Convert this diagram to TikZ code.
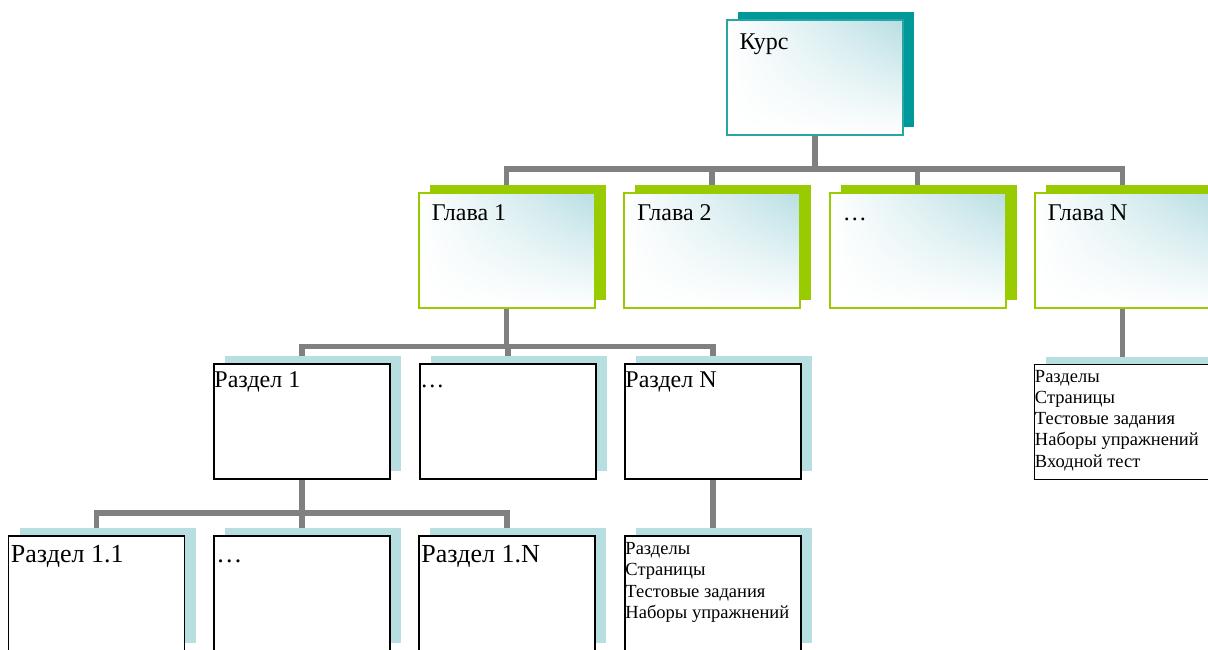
\documentclass[tikz,border=0pt]{standalone}
\usepackage{fontspec}
\setmainfont{Liberation Serif}
\usetikzlibrary{shadows,shadings,backgrounds,calc}

\definecolor{tealshadow}{RGB}{0,153,153}
\definecolor{tealline}{RGB}{40,165,165}
\definecolor{limegreen}{RGB}{153,204,0}
\definecolor{iceblue}{RGB}{184,222,227}
\definecolor{paleshadow}{RGB}{183,222,224}
\definecolor{conngray}{RGB}{128,128,128}

\tikzset{every picture/.style={line width=0.75pt}}
\tikzset{
  box/.style={minimum width=176pt, minimum height=115pt, inner sep=0pt},
  topbox/.style={box, draw=tealline, line width=1.5pt,
    upper right=iceblue, upper left=white, lower left=white, lower right=white,
    general shadow={fill=tealshadow, shadow xshift=11pt, shadow yshift=8pt}},
  chapbox/.style={box, draw=limegreen, line width=2pt,
    upper right=iceblue, upper left=white, lower left=white, lower right=white,
    general shadow={fill=limegreen, shadow xshift=11pt, shadow yshift=8pt}},
  secbox/.style={box, draw=black, line width=1.8pt, fill=white,
    general shadow={fill=paleshadow, shadow xshift=11pt, shadow yshift=8pt}},
  bigtext/.style={anchor=base west, inner sep=0pt, font=\fontsize{24}{28}\selectfont},
  subtext/.style={bigtext, font=\fontsize{26}{30}\selectfont},
  listtext/.style={anchor=north west, inner sep=0pt, align=left, font=\fontsize{18.5}{21.3}\selectfont},
  conn/.style={draw=conngray, line width=5.5pt}
}

\begin{document}
\begin{tikzpicture}[x=1pt,y=1pt,yscale=-1,xscale=1]
  \useasboundingbox (0,0) rectangle (1208,649);
  \clip (0,0) rectangle (1208,649);

  % course
  \node[topbox] (kurs) at (815,77.5) {};
  % chapters
  \node[chapbox] (ch1) at (506.5,250) {};
  \node[chapbox] (ch2) at (712,250) {};
  \node[chapbox] (ch3) at (917.5,250) {};
  \node[chapbox] (chN) at (1122.5,250) {};
  % sections
  \node[secbox] (s1) at (302,421.5) {};
  \node[secbox] (s2) at (508,421.5) {};
  \node[secbox] (sN) at (713,421.5) {};
  \node[secbox] (chNlist) at (1122.5,422) {};
  % subsections
  \node[secbox] (s11) at (96.5,593.5) {};
  \node[secbox] (s12) at (302,593.5) {};
  \node[secbox] (s1N) at (507,593.5) {};
  \node[secbox] (sNlist) at (713,593.5) {};

  % Text Node
  \node[bigtext] (kurs-t) at ($(kurs.north west)+(13,30)$) {Курс};
  \node[bigtext] (ch1-t) at ($(ch1.north west)+(14,29)$) {Глава 1};
  \node[bigtext] (ch2-t) at ($(ch2.north west)+(14,29)$) {Глава 2};
  \node[bigtext] (ch3-t) at ($(ch3.north west)+(14,29)$) {\dots};
  \node[bigtext] (chN-t) at ($(chN.north west)+(14,29)$) {Глава N};
  \node[bigtext] (s1-t) at ($(s1.north west)+(1,24)$) {Раздел 1};
  \node[bigtext] (s2-t) at ($(s2.north west)+(1,24)$) {\dots};
  \node[bigtext] (sN-t) at ($(sN.north west)+(1,24)$) {Раздел N};
  \node[subtext] (s11-t) at ($(s11.north west)+(3,27)$) {Раздел 1.1};
  \node[subtext] (s12-t) at ($(s12.north west)+(3,27)$) {\dots};
  \node[subtext] (s1N-t) at ($(s1N.north west)+(3,27)$) {Раздел 1.N};
  \node[listtext] (chNlist-t) at ($(chNlist.north west)+(1,6)$)
    {Разделы\\Страницы\\Тестовые задания\\Наборы упражнений\\Входной тест};
  \node[listtext] (sNlist-t) at ($(sNlist.north west)+(1,7)$)
    {Разделы\\Страницы\\Тестовые задания\\Наборы упражнений};

  % connectors
  \begin{scope}[on background layer]
    \foreach \c in {ch1,ch2,ch3,chN}
      \draw[conn] (kurs.south) -- ++(0,33) -| (\c.north);
    \foreach \c in {s1,s2,sN}
      \draw[conn] (ch1.south) -- ++(0,38) -| (\c.north);
    \foreach \c in {s11,s12,s1N}
      \draw[conn] (s1.south) -- ++(0,33) -| (\c.north);
    \draw[conn] (chN) -- (chNlist);
    \draw[conn] (sN) -- (sNlist);
  \end{scope}
\end{tikzpicture}
\end{document}
